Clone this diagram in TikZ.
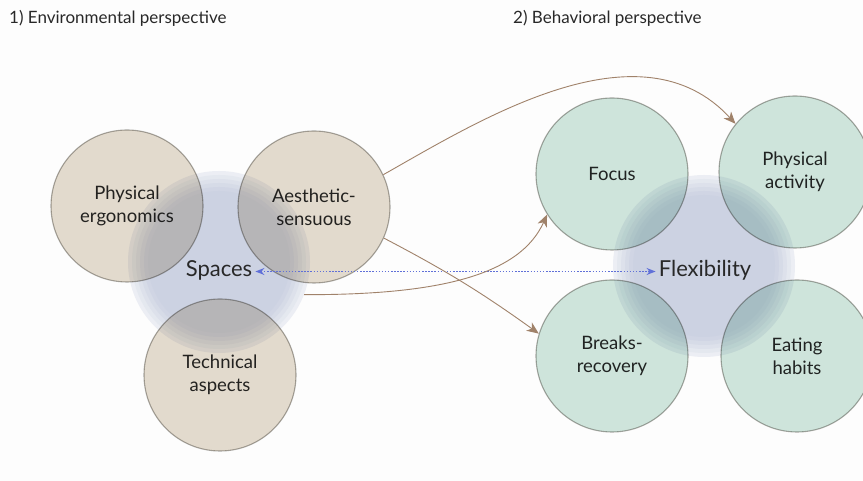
\documentclass[tikz,border=0pt]{standalone}
\usepackage{fontspec}
\setmainfont{Lato}
\usetikzlibrary{arrows.meta}

\definecolor{bgc}{RGB}{253,253,253}
\definecolor{tanfill}{RGB}{228,220,207}
\definecolor{greenfill}{RGB}{208,230,221}
\definecolor{rimc}{RGB}{172,170,166}
\definecolor{haloc}{RGB}{204,210,226}
\definecolor{arrowc}{RGB}{160,130,106}
\definecolor{linkc}{RGB}{96,112,216}
\definecolor{inkc}{RGB}{40,40,40}

\tikzset{
  bubble/.style={circle, minimum size=152pt, inner sep=0pt, draw=rimc,
    line width=1.1pt, align=center, text=inkc,
    font=\fontsize{18.5}{23}\selectfont},
  envbubble/.style={bubble, fill=tanfill},
  behbubble/.style={bubble, fill=greenfill},
  halo/.style={circle, minimum size=182pt, inner sep=0pt, fill=haloc!35!bgc},
  core/.style={font=\fontsize{22}{26}\selectfont, text=inkc, text height=15pt,
    text depth=4pt, inner sep=3pt, anchor=base},
  heading/.style={font=\fontsize{17}{20}\selectfont, text=inkc,
    anchor=base west, inner sep=0pt},
  flow/.style={draw=arrowc, line width=0.9pt,
    -{Stealth[length=12pt,width=10pt,inset=3.5pt]}},
  link/.style={draw=linkc, line width=1.5pt, dash pattern=on 1.5pt off 1.6pt,
    {Stealth[length=9pt,width=7pt]}-{Stealth[length=9pt,width=7pt]}},
}

\begin{document}
\begin{tikzpicture}[x=1pt,y=1pt]
  \fill[bgc] (0,0) rectangle (863,481);
  \useasboundingbox (0,0) rectangle (863,481);

  % column headings
  \node[heading] (envhead) at (9,457) {1) Environmental perspective};
  \node[heading] (behhead) at (513,457) {2) Behavioral perspective};

  % halos: pale rim stepping into a solid core
  \node[halo] (spacesHalo) at (219,219) {};
  \node[halo] (flexHalo) at (704,215) {};
  \foreach \h in {spacesHalo,flexHalo}{
    \foreach \r/\k in {87/50,83/65,79/80,75/92,71/100}{
      \fill[haloc!\k!bgc] (\h.center) circle (\r);
    }
  }

  % overlapping circles, multiplied onto the halos
  \begin{scope}[blend mode=multiply]
    \node[envbubble] (phys) at (127,275) {Physical\\ergonomics};
    \node[envbubble] (aes) at (314,274) {Aesthetic-\\sensuous};
    \node[envbubble] (tech) at (220,106) {Technical\\aspects};
    \node[behbubble] (focus) at (612,307) {Focus};
    \node[behbubble] (pact) at (795,309) {Physical\\activity};
    \node[behbubble] (breaks) at (612,125) {Breaks-\\recovery};
    \node[behbubble] (eat) at (797,125) {Eating\\habits};
  \end{scope}

  % central labels
  \node[core] (spaces) at (219,204) {Spaces};
  \node[core] (flex) at (705,204) {Flexibility};

  % connectors
  \draw[link] (spaces.east) -- (flex.west);
  \draw[flow] (aes.25) .. controls (480,361) and (640,461) .. (pact.141);
  \draw[flow] (aes.-24) to[bend left=4] (breaks.163);
  \draw[flow] (spacesHalo.-21) .. controls (440,186) and (520,206) .. (focus.212);
\end{tikzpicture}
\end{document}
